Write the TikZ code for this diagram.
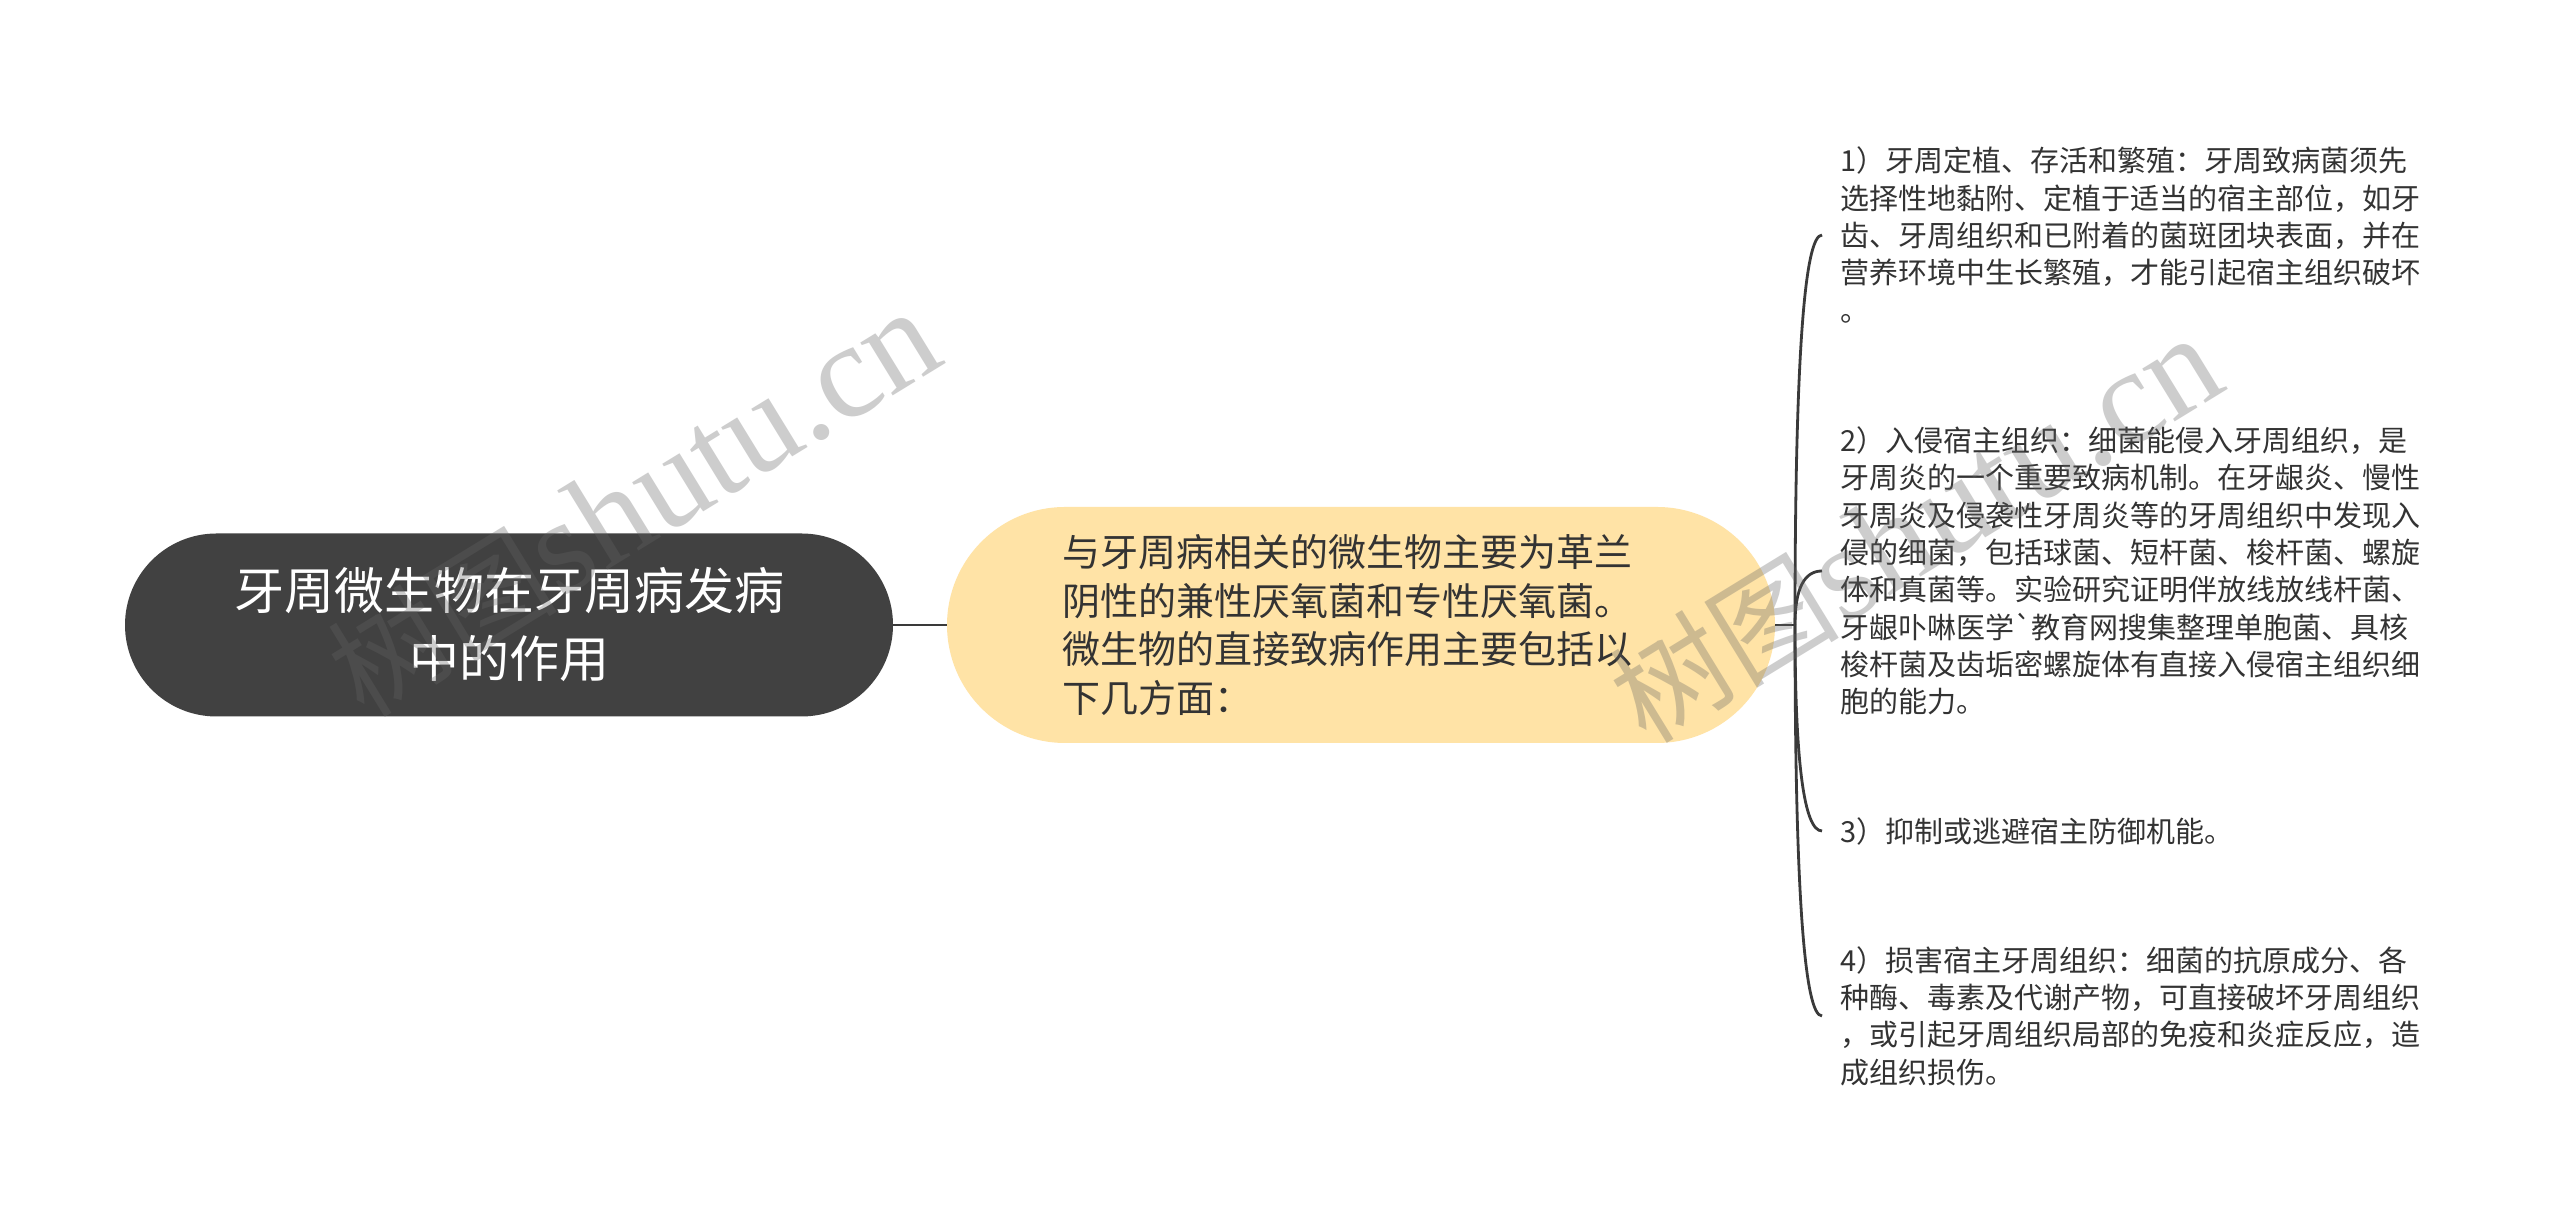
\documentclass[tikz,border=0pt]{standalone}
\usepackage{fontspec}
\setmainfont{Noto Sans CJK SC}
\newfontfamily\cjkplain[Ligatures=TeXOff]{Noto Sans CJK SC}
\newfontfamily\wmlatin{Liberation Serif}
\usetikzlibrary{calc}
\definecolor{darknode}{HTML}{414141}
\definecolor{yellownode}{HTML}{FFE3A6}
\definecolor{linecol}{HTML}{3A3A3A}
\definecolor{txt}{HTML}{333333}
\definecolor{wm}{RGB}{100,100,100}
\begin{document}
\begin{tikzpicture}[x=1pt,y=1pt,
  conn/.style={draw=linecol, line width=2.8pt},
  rootbox/.style={fill=darknode, rounded corners=91.5pt, minimum width=768pt, minimum height=183pt, inner sep=0pt, text=white, align=center, font=\fontsize{50}{68}\selectfont},
  mainbox/.style={fill=yellownode, rounded corners=118pt, minimum width=828pt, minimum height=236pt, inner sep=0pt},
  maintext/.style={inner sep=0pt, text=txt, align=left, font=\fontsize{38}{48.8}\selectfont},
  leaf/.style={anchor=west, inner xsep=18pt, inner ysep=0pt, align=left, text=txt, font=\fontsize{29}{37.3}\selectfont},
  wmark/.style={rotate=31.5, anchor=base east, text=wm, text opacity=0.32, inner sep=0pt, font=\fontsize{115}{115}\selectfont},
]
\fill[white] (0,0) rectangle (2560,1230);
\useasboundingbox (0,0) rectangle (2560,1230);

\node[rootbox] (root) at (509,605) {牙周微生物在牙周病发病\\中的作用};
\node[mainbox] (main) at (1361,605) {};
\node[maintext] (mtext) at ($(main.center)+(-14,0)$) {与牙周病相关的微生物主要为革兰\\阴性的兼性厌氧菌和专性厌氧菌。\\微生物的直接致病作用主要包括以\\下几方面：};
\coordinate (J) at (1795,605);

\node[leaf] (t1) at (1822,995) {1）牙周定植、存活和繁殖：牙周致病菌须先\\选择性地黏附、定植于适当的宿主部位，如牙\\齿、牙周组织和已附着的菌斑团块表面，并在\\营养环境中生长繁殖，才能引起宿主组织破坏\\。};
\node[leaf] (t2) at (1822,659) {2）入侵宿主组织：细菌能侵入牙周组织，是\\牙周炎的一个重要致病机制。在牙龈炎、慢性\\牙周炎及侵袭性牙周炎等的牙周组织中发现入\\侵的细菌，包括球菌、短杆菌、梭杆菌、螺旋\\体和真菌等。实验研究证明伴放线放线杆菌、\\牙龈卟啉医学{\cjkplain\symbol{96}}教育网搜集整理单胞菌、具核\\梭杆菌及齿垢密螺旋体有直接入侵宿主组织细\\胞的能力。};
\node[leaf] (t3) at (1822,399) {3）抑制或逃避宿主防御机能。};
\node[leaf] (t4) at (1822,214) {4）损害宿主牙周组织：细菌的抗原成分、各\\种酶、毒素及代谢产物，可直接破坏牙周组织\\，或引起牙周组织局部的免疫和炎症反应，造\\成组织损伤。};

\draw[conn] (root.east) -- (main.west);
\draw[conn] (main.east) -- (J);
\foreach \nd in {t1,t2,t3,t4}
  \draw[conn] (J) .. controls ($(J)!2/3!(J |- \nd.west)$) and ($(\nd.west)!2/3!(J |- \nd.west)$) .. (\nd.west);

\node[wmark] (wm1) at (948,868) {树图{\wmlatin\fontsize{135}{135}\selectfont shutu.cn}};
\node[wmark] (wm2) at (2230,842) {树图{\wmlatin\fontsize{135}{135}\selectfont shutu.cn}};
\end{tikzpicture}
\end{document}
